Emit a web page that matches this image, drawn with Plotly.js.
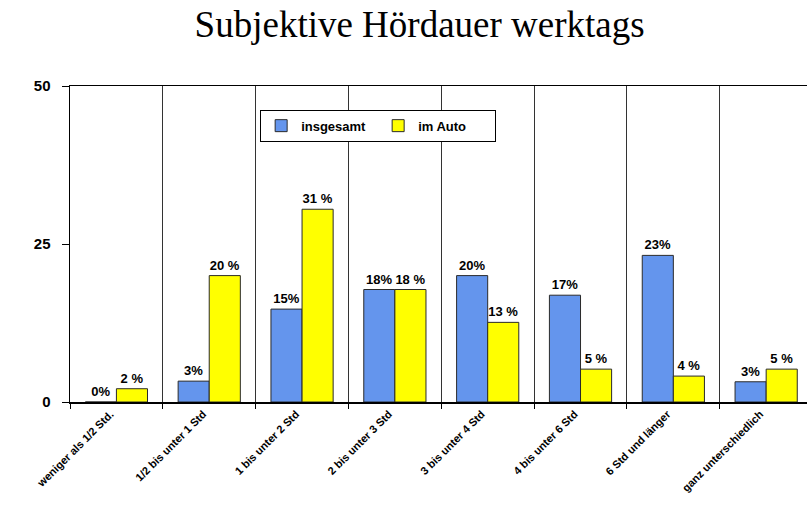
<!DOCTYPE html>
<html>
<head>
<meta charset="utf-8">
<script src="https://cdn.plot.ly/plotly-3.0.1.min.js"></script>
<style>
  body { margin: 0; background: #fff; }
  #plot { width: 807px; height: 517px; }
</style>
</head>
<body>
<div id="plot"></div>
<script>
// categories on the x axis
var categories = [
    "weniger als 1/2 Std.",
    "1/2 bis unter 1 Std",
    "1 bis unter 2 Std",
    "2 bis unter 3 Std",
    "3 bis unter 4 Std",
    "4 bis unter 6 Std",
    "6 Std und länger",
    "ganz unterschiedlich"
];
// values (percent)
var insgesamt = [0, 3.3, 14.7, 17.8, 20.0, 16.9, 23.2, 3.2];
var imAuto = [2.1, 20.0, 30.5, 17.8, 12.6, 5.2, 4.1, 5.2];
// bar labels
var insgesamtLabels = ["0%", "3%", "15%", "18%", "20%", "17%", "23%", "3%"];
var imAutoLabels = ["2 %", "20 %", "31 %", "18 %", "13 %", "5 %", "4 %", "5 %"];

var sans = "Liberation Sans, Arial, sans-serif";
var labelFont = {family: sans, size: 13, color: "#000", weight: 700};

var trace1 = {
    x: categories,
    y: insgesamt,
    name: "insgesamt",
    type: "bar",
    text: insgesamtLabels,
    textposition: "outside",
    textfont: labelFont,
    cliponaxis: false,
    hoverinfo: "none",
    marker: {color: "#6495ED", line: {color: "#2a2a2a", width: 1}}
};
var trace2 = {
    x: categories,
    y: imAuto,
    name: "im Auto",
    type: "bar",
    text: imAutoLabels,
    textposition: "outside",
    textfont: labelFont,
    cliponaxis: false,
    hoverinfo: "none",
    marker: {color: "#FFFF00", line: {color: "#2a2a2a", width: 1}}
};

var layout = {
    width: 807,
    height: 517,
    margin: {l: 70, r: 0, t: 86, b: 115},
    paper_bgcolor: "#fff",
    plot_bgcolor: "#fff",
    title: {
        text: "Subjektive Hördauer werktags",
        font: {family: "Liberation Serif, Times New Roman, serif", size: 37, color: "#000"},
        x: 0.52,
        xref: "container",
        xanchor: "center",
        y: 0.953,
        yref: "container",
        yanchor: "middle"
    },
    barmode: "group",
    bargap: 0.33,
    bargroupgap: 0,
    showlegend: true,
    legend: {
        orientation: "h",
        x: 0.258,
        xanchor: "left",
        y: 0.925,
        yanchor: "top",
        bgcolor: "#fff",
        bordercolor: "#000",
        borderwidth: 1,
        entrywidth: 72,
        entrywidthmode: "pixels",
        font: {family: sans, size: 13, color: "#000", weight: 700}
    },
    xaxis: {
        type: "category",
        range: [-0.5, 7.44],
        tickson: "boundaries",
        showgrid: true,
        gridcolor: "#333",
        gridwidth: 1,
        showline: true,
        linecolor: "#000",
        linewidth: 1.5,
        mirror: true,
        ticks: "outside",
        ticklen: 5,
        tickcolor: "#000",
        tickangle: -45,
        ticklabelshift: -6,
        tickfont: {family: sans, size: 11, color: "#000", weight: 700},
        fixedrange: true
    },
    yaxis: {
        range: [0, 50],
        tickvals: [0, 25, 50],
        showgrid: false,
        zeroline: false,
        showline: true,
        linecolor: "#000",
        linewidth: 1.5,
        ticks: "outside",
        ticklen: 7,
        tickcolor: "#000",
        ticklabelstandoff: 8,
        tickfont: {family: sans, size: 15, color: "#000", weight: 700},
        fixedrange: true
    }
};

Plotly.newPlot("plot", [trace1, trace2], layout, {displayModeBar: false, staticPlot: true});
</script>
</body>
</html>
